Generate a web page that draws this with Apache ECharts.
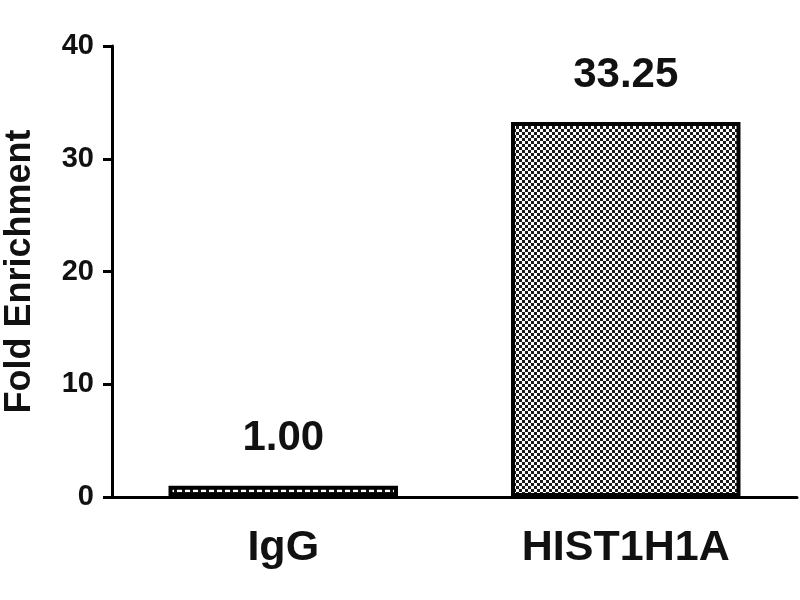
<!DOCTYPE html>
<html><head><meta charset="utf-8">
<script src="https://cdn.jsdelivr.net/npm/echarts@6/dist/echarts.min.js"></script>
<style>html,body{margin:0;padding:0;background:#fff}#c{width:800px;height:600px}</style>
</head><body><div id="c"></div>
<script>
const categories = ['IgG', 'HIST1H1A'];
const values = [1.00, 33.25];
const yTicks = [0, 10, 20, 30, 40];

function checker(){
  const c = document.createElement('canvas'); c.width = 6; c.height = 6;
  const g = c.getContext('2d');
  g.fillStyle = '#fff'; g.fillRect(0,0,6,6);
  g.fillStyle = '#1a1a1a';
  g.fillRect(0,0,3,3); g.fillRect(3,3,3,3);
  return c;
}
function dashes(){
  const c = document.createElement('canvas'); c.width = 8; c.height = 8;
  const g = c.getContext('2d');
  g.fillStyle = '#111'; g.fillRect(0,0,8,8);
  g.fillStyle = '#fff'; g.fillRect(1,1,5,3); g.fillRect(1,5,5,2);
  return c;
}
const fills = [{image: dashes(), repeat: 'repeat'}, {image: checker(), repeat: 'repeat'}];

const chart = echarts.init(document.getElementById('c'));
const font = '"Liberation Sans", Arial, sans-serif';
chart.setOption({
  animation: false,
  grid: {left: 112, right: 3, top: 46, bottom: 103, containLabel: false, outerBoundsMode: 'none'},
  xAxis: {
    type: 'category', data: categories,
    axisLine: {lineStyle: {color: '#000', width: 3}},
    axisTick: {alignWithLabel: true, length: 10, lineStyle: {color: '#000', width: 3}},
    axisLabel: {color: '#111', fontFamily: font, fontWeight: 'bold', fontSize: 43, margin: 30}
  },
  yAxis: {
    type: 'value', min: yTicks[0], max: yTicks[yTicks.length-1], interval: 10,
    name: 'Fold Enrichment', nameLocation: 'middle', nameGap: 74, nameRotate: 90,
    nameTextStyle: {color: '#111', fontFamily: font, fontWeight: 'bold', fontSize: 36},
    axisLine: {show: true, lineStyle: {color: '#000', width: 3}},
    axisTick: {show: true, length: 9, lineStyle: {color: '#000', width: 3}},
    splitLine: {show: false},
    axisLabel: {color: '#111', fontFamily: font, fontWeight: 'bold', fontSize: 29, margin: 18}
  },
  series: [{
    type: 'bar', barWidth: '67%',
    data: values.map((v, i) => ({value: v, itemStyle: {color: fills[i]}})),
    itemStyle: {borderColor: '#000', borderWidth: 4},
    label: {show: true, position: 'top', distance: 26, formatter: p => p.value.toFixed(2),
      color: '#111', fontFamily: font, fontWeight: 'bold', fontSize: 42}
  }]
});
</script></body></html>
